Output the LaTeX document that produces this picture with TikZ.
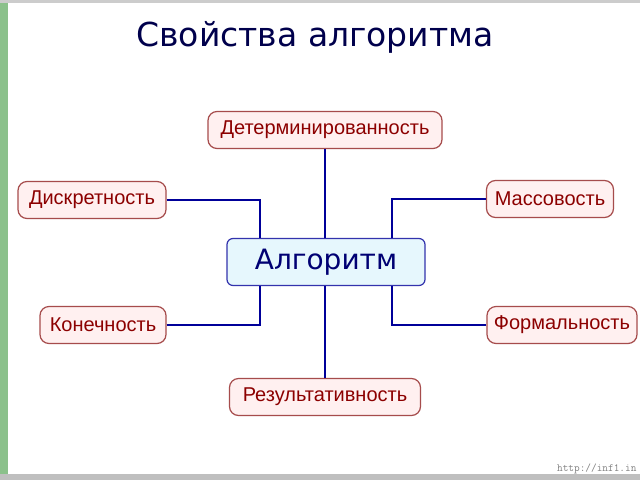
\documentclass[tikz,border=0pt]{standalone}
\usepackage{fontspec}
\setmainfont{Liberation Sans}
\newfontfamily\titlefont{DejaVu Sans}
\begin{document}
\begin{tikzpicture}[x=1pt,y=-1pt,
  prop/.style={draw=red!50!black!70, line width=1.2pt, rounded corners=9pt, fill=red!6, text=red!55!black, font=\fontsize{20}{22}\selectfont, inner sep=0pt, minimum height=37},
  conn/.style={draw=blue!60!black, line width=1.5pt}]
\fill[white] (0,0) rectangle (640,480);
\fill[green!30!gray!70] (0,0) rectangle (8,480);
\fill[gray!40] (0,0) rectangle (640,3);
\fill[gray!50] (0,474) rectangle (640,480);
\node[text=blue!30!black, font=\titlefont\fontsize{33}{36}\selectfont] (title) at (315,37) {Свойства алгоритма};
\node[prop, minimum width=234] (det) at (325,130) {Детерминированность};
\node[prop, minimum width=148] (dis) at (92,200) {Дискретность};
\node[prop, minimum width=127] (mas) at (550,199) {Массовость};
\node[prop, minimum width=126] (kon) at (103,325) {Конечность};
\node[prop, minimum width=150] (for) at (562,325) {Формальность};
\node[prop, minimum width=191] (res) at (325,397) {Результативность};
\node[draw=blue!60!black!80, line width=1.2pt, rounded corners=6pt, fill=cyan!10, text=blue!45!black, minimum width=198, minimum height=47, inner sep=0pt, font=\titlefont\fontsize{28}{30}\selectfont] (alg) at (326,262) {Алгоритм};
\draw[conn] (det.south) -- (det.south |- alg.north);
\draw[conn] (res.north) -- (res.north |- alg.south);
\draw[conn] (dis.east) -| (260,0 |- alg.north);
\draw[conn] (kon.east) -| (260,0 |- alg.south);
\draw[conn] (mas.west) -| (392,0 |- alg.north);
\draw[conn] (for.west) -| (392,0 |- alg.south);
\node[text=gray, font=\ttfamily\fontsize{11}{12}\selectfont, anchor=east] (url) at (640,469) {http://inf1.in};
\end{tikzpicture}
\end{document}
